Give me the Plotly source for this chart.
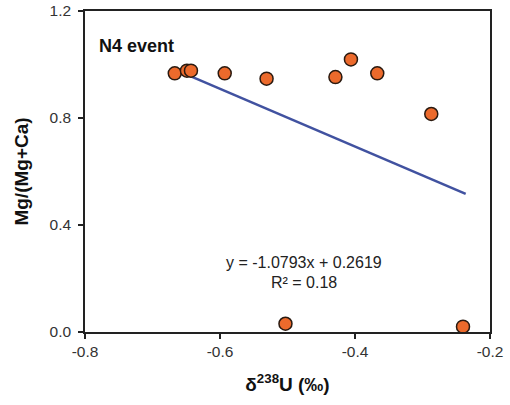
import plotly.graph_objects as go

delta_u = [-0.667, -0.649, -0.643, -0.593, -0.531, -0.429, -0.406, -0.367, -0.287, -0.503, -0.240]
mg_ratio = [0.967, 0.977, 0.977, 0.967, 0.947, 0.953, 1.019, 0.967, 0.815, 0.031, 0.020]
slope = -1.0793
intercept = 0.2619
fit_x = [-0.65, -0.236]
fit_y = [slope * x + intercept for x in fit_x]

font_family = "Liberation Sans, Arial, sans-serif"

fig = go.Figure()
fig.add_trace(go.Scatter(x=fit_x, y=fit_y, mode="lines",
                         line=dict(color="#4152A0", width=2.5), showlegend=False))
fig.add_trace(go.Scatter(x=delta_u, y=mg_ratio, mode="markers",
                         marker=dict(size=13, color="#EC6A2C",
                                     line=dict(color="#2a1a10", width=1.5)),
                         showlegend=False))

fig.add_annotation(x=0.03, y=0.89, xref="paper", yref="paper", xanchor="left", yanchor="middle",
                   text="<b>N4 event</b>", showarrow=False,
                   font=dict(family=font_family, size=18, color="#111"))
fig.add_annotation(x=0.54, y=0.215, xref="paper", yref="paper", xanchor="center", yanchor="middle",
                   text="y = -1.0793x + 0.2619", showarrow=False,
                   font=dict(family=font_family, size=16, color="#222"))
fig.add_annotation(x=0.54, y=0.155, xref="paper", yref="paper", xanchor="center", yanchor="middle",
                   text="R² = 0.18", showarrow=False,
                   font=dict(family=font_family, size=16, color="#222"))

fig.update_layout(
    width=510, height=405,
    margin=dict(l=85, r=20, t=11, b=73),
    paper_bgcolor="white", plot_bgcolor="white",
    font=dict(family=font_family, size=15.5, color="#333"),
    xaxis=dict(range=[-0.8, -0.2], tickvals=[-0.8, -0.6, -0.4, -0.2],
               ticktext=["-0.8", "-0.6", "-0.4", "-0.2"], automargin=False,
               showgrid=False, zeroline=False, showline=True, mirror=True,
               linecolor="#222", linewidth=1.5, ticks="outside", ticklen=5,
               tickcolor="#222", tickwidth=1.5,
               title=dict(text="<b>δ<sup>238</sup>U (‰)</b>", standoff=18,
                          font=dict(size=19, color="#111"))),
    yaxis=dict(range=[0, 1.2], tickvals=[0, 0.4, 0.8, 1.2],
               ticktext=["0.0", "0.4", "0.8", "1.2"], automargin=False,
               showgrid=False, zeroline=False, showline=True, mirror=True,
               linecolor="#222", linewidth=1.5, ticks="outside", ticklen=5,
               tickcolor="#222", tickwidth=1.5, ticklabelstandoff=4,
               title=dict(text="<b>Mg/(Mg+Ca)</b>", standoff=16,
                          font=dict(size=19, color="#111"))),
)

fig.write_html("out.html")
